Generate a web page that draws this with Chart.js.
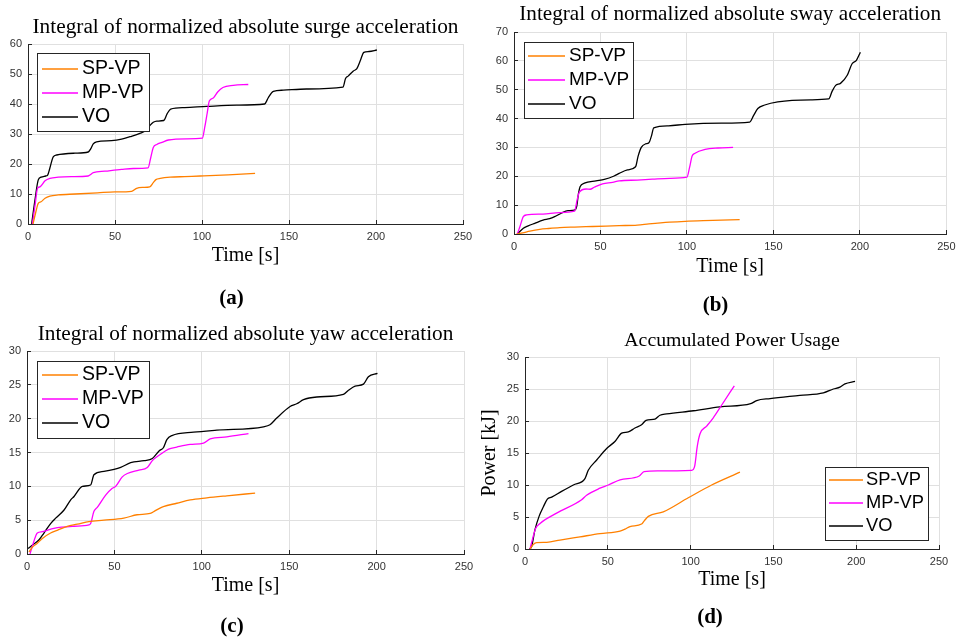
<!DOCTYPE html>
<html>
<head>
<meta charset="utf-8">
<script src="https://cdn.jsdelivr.net/npm/chart.js@4.4.1/dist/chart.umd.min.js"></script>
<style>
  html, body { margin: 0; padding: 0; background: #fff; overflow: hidden; }
  #fig { position: relative; width: 962px; height: 640px; }
  #fig canvas { position: absolute; }
</style>
</head>
<body>
<div id="fig"></div>
<script>
// ---- series names, colours and shared tick values ----
const seriesNames = ['SP-VP', 'MP-VP', 'VO'];
const seriesColors = ['#ff8000', '#ff00ff', '#000000'];
const timeTicks = { min: 0, max: 250, step: 50 };

// ---- (a) surge: [time s, value] ----
const surgeSP = [[2.9,0],[4.5,4],[5.9,6.9],[7.5,7.4],[9.8,8.6],[12.6,9.3],[17.4,9.7],[27,10],[40,10.4],[50,10.7],[59.5,10.9],[62.4,11.9],[66,12.2],[70,12.4],[72,13.8],[73.5,14.8],[76,15.2],[81.7,15.6],[90,15.8],[99,16],[115,16.4],[130.5,16.9]];
const surgeMP = [[2.5,0],[4,6],[5.5,11.9],[6.9,12.4],[9.8,14.4],[12.6,15.2],[17.4,15.6],[25,15.8],[34.6,16],[36,16.5],[37.5,17.1],[44.2,17.6],[53.8,18.2],[60.6,18.5],[69,18.7],[70.5,22],[72,25.5],[74,26.5],[77,27.2],[80.7,28],[91,28.4],[100.2,28.6],[101.5,32],[103,37],[104.2,41],[106.5,42],[109,44],[112,45.5],[118,46.2],[126.6,46.5]];
const surgeVO = [[2.1,0],[4,8],[5.9,14.7],[7.5,15.6],[10.1,16],[11.3,16.3],[12.5,18.5],[14.5,22.4],[16.5,23],[27,23.6],[34.6,24],[36.2,25.2],[37.5,26.7],[39.4,27.4],[48,27.8],[53.8,28.3],[58.6,29.1],[64.3,30.2],[68,31.3],[70,32.8],[72,33.9],[74,34.3],[78,34.5],[80,36.8],[82,38.3],[90,38.8],[102.7,39.2],[120,39.6],[136,40],[138,42],[141,44.2],[146.7,44.6],[160,45],[181,45.6],[182.5,48.5],[184,49.3],[187,51],[189,51.8],[191,54.5],[193,57.2],[196,57.5],[200.5,58]];

// ---- (b) sway ----
const swaySP = [[1.5,0],[5,0.4],[9.2,1],[14.9,1.6],[20,1.9],[26.4,2.2],[35,2.4],[45.5,2.6],[60.8,2.9],[71.3,3.1],[78,3.5],[90,4.1],[99,4.4],[115,4.7],[130.5,5]];
const swayMP = [[1.9,0],[3.4,2.5],[5.4,6],[7.3,6.6],[16.8,6.9],[26.4,7.4],[35,7.9],[36.5,11.8],[37.8,14.5],[41.7,15.6],[44,15.5],[46.4,16.2],[51.2,17.4],[57,17.9],[60.8,18.4],[71.3,18.7],[80,19],[90,19.3],[100,19.7],[101.5,23],[103,27],[104.7,28],[110.5,29.3],[118,29.8],[126.7,30]];
const swayVO = [[1.9,0],[5.4,2],[8.2,2.8],[12,3.7],[16.8,4.8],[20.6,5.3],[23.5,6],[27.3,7.2],[31.2,8.1],[35,8.3],[36.3,9.7],[37.3,14.1],[38.2,16.4],[40.7,17.6],[47.4,18.4],[52.2,18.9],[57.9,20.1],[60.8,21],[65.6,22.2],[70.3,23.3],[71.7,26.8],[73.6,30],[76,31.2],[78,31.6],[79.5,34],[80.8,36.8],[89.4,37.5],[99,38],[120,38.4],[136.3,38.8],[138.5,41],[141,43.5],[145,44.7],[152.5,45.8],[171.6,46.5],[182,46.8],[184,49.5],[186,51.5],[188.8,52.2],[192.7,55],[195.5,59],[198,60.2],[200.3,63]];

// ---- (c) yaw ----
const yawSP = [[1.1,0.3],[3,1],[5.9,1.6],[8.8,2.3],[13.5,3.1],[17.3,3.5],[23,4.1],[28.8,4.4],[35.4,4.8],[44,5],[55.4,5.3],[63,5.8],[70.5,6],[73.4,6.4],[78,7],[85.7,7.5],[93.4,8],[102.9,8.3],[114.3,8.6],[130.5,9]];
const yawMP = [[1.7,0],[3.6,1.6],[5.9,3.1],[8.8,3.3],[15.4,3.8],[26.9,4.1],[35.4,4.3],[36.4,4.5],[38.3,6.3],[40.2,6.9],[45,8.7],[48.8,9.7],[50.7,10],[54.5,11.4],[57.4,11.9],[64,12.4],[68.8,12.8],[71.7,13.8],[76.2,14.7],[81,15.5],[85.7,15.8],[93.4,16.2],[101,16.4],[104.8,17],[114.3,17.3],[126.7,17.8]];
const yawVO = [[0.6,0.8],[3,1.3],[6.9,2.1],[9.7,3.1],[13.5,4.5],[16.4,5.3],[21.2,6.5],[25,8],[26.9,8.5],[31.7,10],[36.4,10.2],[38.3,11.7],[44,12.2],[49.8,12.5],[53.6,12.8],[59.3,13.5],[67,13.8],[71.7,14.1],[75.8,15.3],[78,15.7],[80,16.9],[82.9,17.5],[95.3,18],[108.6,18.3],[135.3,18.8],[139,19.1],[142.9,20.1],[150.5,21.8],[154.3,22.2],[158.2,22.8],[165.8,23.2],[181,23.6],[183.9,24.2],[187.7,24.8],[192.5,25.1],[195.3,26.2],[200.5,26.7]];

// ---- (d) accumulated power, kJ ----
const powerSP = [[3,0],[5,0.7],[7,1],[13.1,1.05],[21.1,1.4],[33.2,1.9],[45.3,2.4],[57.4,2.8],[60.4,3.1],[63.4,3.5],[70.4,3.9],[72,4.4],[74.5,5.1],[83.5,5.8],[98.6,8],[112.7,10],[129.8,12]];
const powerMP = [[3,0],[4.5,1.5],[6.4,3.2],[9.1,4],[19.1,5.6],[34.2,7.7],[37.2,8.4],[45.3,9.5],[50.3,10],[57.4,10.8],[69,11.4],[71.9,12.1],[80,12.2],[100.6,12.3],[102.5,13],[104,16],[105.7,18],[109.7,19.2],[113.7,20.5],[118.8,22.5],[126.4,25.5]];
const powerVO = [[2.6,0],[4,0.4],[6,3],[8.5,5.1],[11.1,6.6],[13.5,7.8],[16.1,8.1],[22.1,9],[29.2,10],[36.2,11],[38.2,12.3],[43.3,13.9],[49.3,15.7],[54.3,16.8],[58.4,18.1],[62.4,18.3],[66.4,18.9],[70.4,19.4],[73.1,20.1],[78.5,20.3],[81.5,20.9],[85.5,21.1],[101.7,21.6],[117.8,22.2],[136.3,22.7],[139.9,23.2],[148,23.5],[166,24],[180.2,24.4],[186.2,25],[190.2,25.3],[193.2,25.8],[199.3,26.2]];

// ---- texts ----
const panelTitles = [
  'Integral of normalized absolute surge acceleration',
  'Integral of normalized absolute sway acceleration',
  'Integral of normalized absolute yaw acceleration',
  'Accumulated Power Usage'
];
const panelCaptions = ['(a)', '(b)', '(c)', '(d)'];
const xAxisLabel = 'Time [s]';
const powerAxisLabel = 'Power [kJ]';
const yMaxima = [60, 70, 30, 30];
const yStepSizes = [10, 10, 5, 5];

// ---- styling ----
const SERIF = '"Liberation Serif", "Times New Roman", serif';
const SANS = '"Liberation Sans", Arial, Helvetica, sans-serif';
const AXIS_COLOR = '#262626';
const GRID_COLOR = '#e0e0e0';
const TICK_COLOR = '#333333';
const CAPTION_SIZE = 21;
const XLABEL_SIZE = 20;

Chart.defaults.font.family = SANS;

// MATLAB-style inward tick marks on the left and bottom axes
const inwardTicks = {
  id: 'inwardTicks',
  beforeDatasetsDraw(chart) {
    const { ctx, chartArea: a, scales: { x, y } } = chart;
    ctx.save();
    ctx.strokeStyle = AXIS_COLOR;
    ctx.lineWidth = 1;
    ctx.beginPath();
    x.ticks.forEach(t => {
      const px = Math.round(x.getPixelForValue(t.value) - 0.5) + 0.5;
      ctx.moveTo(px, a.bottom); ctx.lineTo(px, a.bottom - 4);
    });
    y.ticks.forEach(t => {
      const py = Math.round(y.getPixelForValue(t.value) - 0.5) + 0.5;
      ctx.moveTo(a.left, py); ctx.lineTo(a.left + 4, py);
    });
    ctx.stroke();
    ctx.restore();
  }
};

// Boxed legend placed inside the plot area
const boxLegend = {
  id: 'boxLegend',
  afterDatasetsDraw(chart, args, o) {
    const { ctx, chartArea: a } = chart;
    const sets = chart.data.datasets;
    ctx.save();
    ctx.font = o.size + 'px ' + SANS;
    const textW = Math.max(...sets.map(d => ctx.measureText(d.label).width));
    const w = Math.round(o.inset + o.sample + o.gap + textW + o.padRight);
    const h = Math.round(o.padTop + o.rowH * sets.length + o.padBottom);
    const left = Math.round(o.corner === 'br' ? a.right - o.dx - w : a.left + o.dx);
    const top = Math.round(o.corner === 'br' ? a.bottom - o.dy - h : a.top + o.dy);
    ctx.fillStyle = '#ffffff';
    ctx.fillRect(left, top, w, h);
    ctx.strokeStyle = AXIS_COLOR;
    ctx.lineWidth = 1;
    ctx.strokeRect(left + 0.5, top + 0.5, w, h);
    ctx.textBaseline = 'middle';
    ctx.textAlign = 'left';
    sets.forEach((d, i) => {
      const cy = top + o.padTop + o.rowH * (i + 0.5);
      ctx.strokeStyle = d.borderColor;
      ctx.lineWidth = 1.5;
      ctx.beginPath();
      ctx.moveTo(left + o.inset, Math.round(cy));
      ctx.lineTo(left + o.inset + o.sample, Math.round(cy));
      ctx.stroke();
      ctx.fillStyle = '#000000';
      ctx.fillText(d.label, left + o.inset + o.sample + o.gap, cy);
    });
    ctx.restore();
  }
};

// page layout of the four panels (canvas box, plot area, text centre lines)
const panels = [
  { box: { x: 0, y: 0, w: 481, h: 320 }, area: { l: 28, t: 44, r: 463, b: 224 },
    titleMid: 27.6, titleSize: 21.3, xlabMid: 255.3, capMid: 299, series: [surgeSP, surgeMP, surgeVO],
    legend: { corner: 'tl', dx: 9, dy: 9, size: 19.5, rowH: 24, padTop: 4, padBottom: 2, inset: 5, sample: 36, gap: 4, padRight: 5 } },
  { box: { x: 481, y: 0, w: 481, h: 320 }, area: { l: 514, t: 32, r: 950, b: 234 },
    titleMid: 14.8, titleSize: 21.2, xlabMid: 266.3, capMid: 306, series: [swaySP, swayMP, swayVO],
    legend: { corner: 'tl', dx: 10, dy: 10, size: 19, rowH: 24, padTop: 2, padBottom: 2, inset: 4, sample: 37, gap: 4, padRight: 4 } },
  { box: { x: 0, y: 320, w: 481, h: 320 }, area: { l: 27, t: 351, r: 464, b: 554 },
    titleMid: 334.3, titleSize: 21.3, xlabMid: 586, capMid: 627, series: [yawSP, yawMP, yawVO],
    legend: { corner: 'tl', dx: 10, dy: 10, size: 19.5, rowH: 24, padTop: 2, padBottom: 3, inset: 5, sample: 36, gap: 4, padRight: 5 } },
  { box: { x: 481, y: 320, w: 481, h: 320 }, area: { l: 525, t: 357, r: 939, b: 549 },
    titleMid: 341, titleSize: 19.8, xlabMid: 579.8, capMid: 618, ylabMid: 490, series: [powerSP, powerMP, powerVO],
    legend: { corner: 'br', dx: 11, dy: 9, size: 18.3, rowH: 23, padTop: 1.5, padBottom: 2.5, inset: 4, sample: 34, gap: 3, padRight: 4 } }
];

const fig = document.getElementById('fig');

panels.forEach((p, k) => {
  const canvas = document.createElement('canvas');
  canvas.width = p.box.w;
  canvas.height = p.box.h;
  canvas.style.left = p.box.x + 'px';
  canvas.style.top = p.box.y + 'px';
  canvas.style.width = p.box.w + 'px';
  canvas.style.height = p.box.h + 'px';
  fig.appendChild(canvas);

  // local coordinates inside this canvas
  const L = p.area.l - p.box.x, T = p.area.t - p.box.y;
  const R = p.area.r - p.box.x, B = p.area.b - p.box.y;
  const titleMid = p.titleMid - p.box.y;
  const capMid = p.capMid - p.box.y;
  const capTop = capMid - CAPTION_SIZE / 2;
  const xlabMid = p.xlabMid - p.box.y;
  const hasYLabel = p.ylabMid !== undefined;

  const datasets = p.series.map((pts, i) => ({
    label: seriesNames[i],
    data: pts.map(([x, y]) => ({ x, y })),
    borderColor: seriesColors[i],
    backgroundColor: seriesColors[i],
    borderWidth: 1.3,
    pointRadius: 0,
    cubicInterpolationMode: 'monotone',
    fill: false
  }));

  new Chart(canvas, {
    type: 'line',
    data: { datasets },
    plugins: [inwardTicks, boxLegend],
    options: {
      responsive: false,
      animation: false,
      devicePixelRatio: 1,
      layout: { padding: { left: 0, top: 0, right: p.box.w - R, bottom: p.box.h - (capMid + CAPTION_SIZE / 2) } },
      plugins: {
        legend: { display: false },
        tooltip: { enabled: false },
        title: {
          display: true, text: panelTitles[k], fullSize: false, color: '#000',
          font: { family: SERIF, size: p.titleSize, weight: 'normal', lineHeight: 1 },
          padding: { top: titleMid - p.titleSize / 2, bottom: T - titleMid - p.titleSize / 2 }
        },
        subtitle: {
          display: true, text: panelCaptions[k], position: 'bottom', color: '#000',
          font: { family: SERIF, size: CAPTION_SIZE, weight: 'bold', lineHeight: 1 },
          padding: { top: 0, bottom: 0 }
        },
        boxLegend: p.legend
      },
      scales: {
        x: {
          type: 'linear', min: timeTicks.min, max: timeTicks.max,
          afterFit: s => { s.height = capTop - B; },
          ticks: { stepSize: timeTicks.step, padding: 6.5, color: TICK_COLOR, font: { size: 11 }, maxRotation: 0 },
          grid: { color: GRID_COLOR, drawTicks: false },
          border: { color: AXIS_COLOR, width: 1 },
          title: {
            display: true, text: xAxisLabel, color: '#000',
            font: { family: SERIF, size: XLABEL_SIZE, lineHeight: 1 },
            padding: { top: 0, bottom: capTop - xlabMid - XLABEL_SIZE / 2 }
          }
        },
        y: {
          type: 'linear', min: 0, max: yMaxima[k],
          afterFit: s => { s.width = L; },
          ticks: { stepSize: yStepSizes[k], padding: 6, color: TICK_COLOR, font: { size: 11 } },
          grid: { color: GRID_COLOR, drawTicks: false },
          border: { color: AXIS_COLOR, width: 1 },
          title: {
            display: hasYLabel, text: powerAxisLabel, color: '#000',
            font: { family: SERIF, size: XLABEL_SIZE, lineHeight: 0.8 },
            padding: { top: hasYLabel ? (p.ylabMid - p.box.x) - XLABEL_SIZE * 0.4 : 0, bottom: 0 }
          }
        }
      }
    }
  });
});
</script>
</body>
</html>
